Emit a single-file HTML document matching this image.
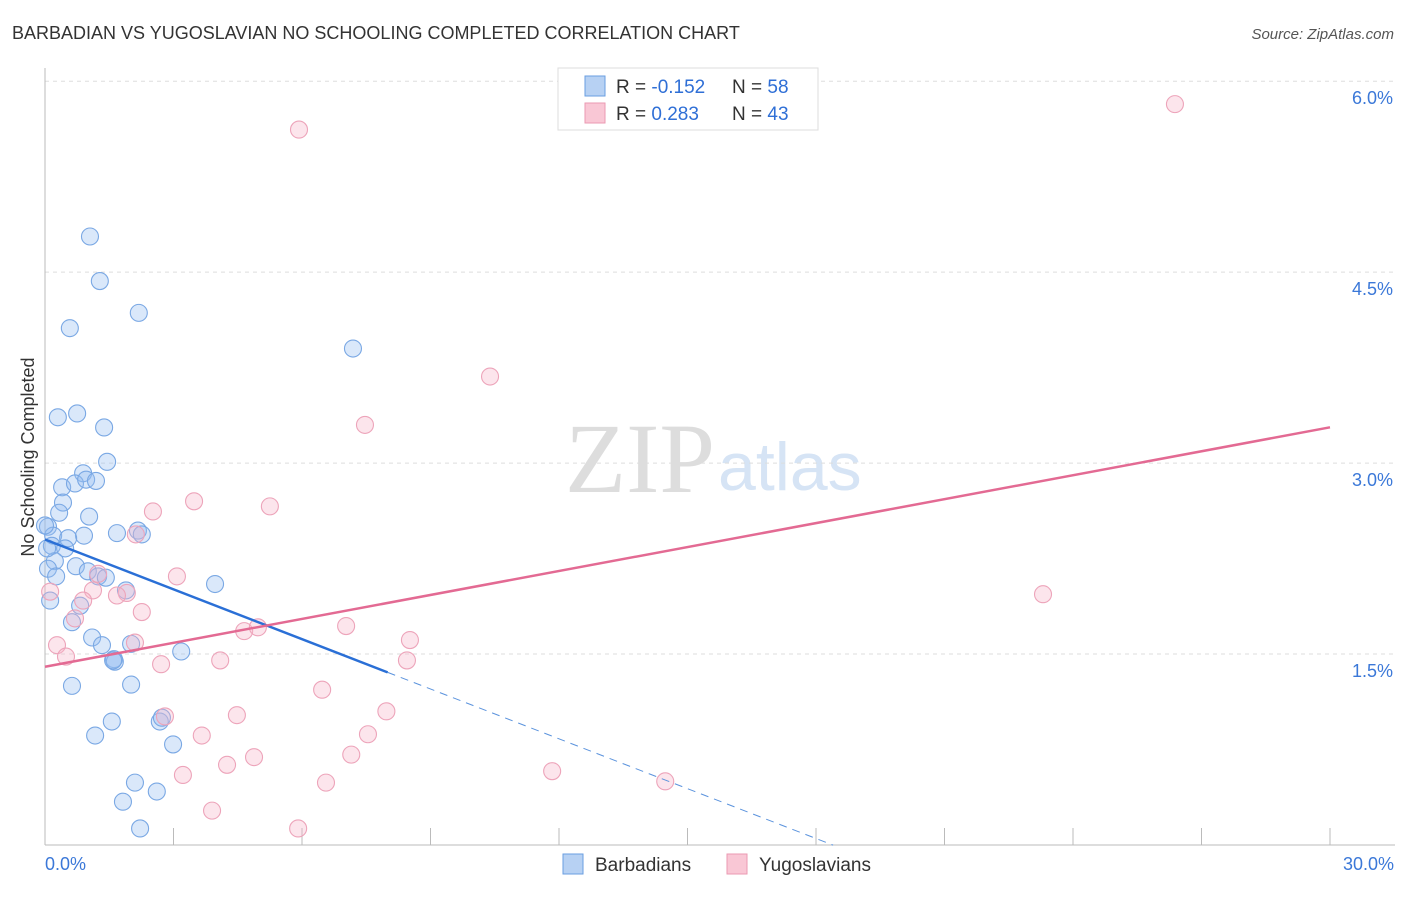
<!DOCTYPE html>
<html><head><meta charset="utf-8"><style>
body{margin:0;background:#fff;font-family:"Liberation Sans",sans-serif}
</style></head><body>
<svg id="c" width="1406" height="892" xmlns="http://www.w3.org/2000/svg" font-family="Liberation Sans, sans-serif">
<text x="12" y="39" font-size="18" fill="#333">BARBADIAN VS YUGOSLAVIAN NO SCHOOLING COMPLETED CORRELATION CHART</text>
<text x="1394" y="39" font-size="15" fill="#555" text-anchor="end" font-style="italic">Source: ZipAtlas.com</text>
<text x="715" y="492" font-size="100" fill="#ddd" text-anchor="end" style="font-family:'Liberation Serif',serif">ZIP</text>
<text x="718" y="490" font-size="68" fill="#d6e4f5">atlas</text>
<g id="grid"></g><g id="axes"></g><g id="pts"></g><g id="lines"></g>
<text transform="translate(34,457) rotate(-90)" font-size="18" fill="#333" text-anchor="middle">No Schooling Completed</text>
<g>
<rect x="558" y="68" width="260" height="62" fill="#fff" stroke="#ddd"/>
<rect x="585" y="76" width="20" height="20" fill="#b7d1f3" stroke="#6a9ee0"/>
<rect x="585" y="103" width="20" height="20" fill="#f9c7d5" stroke="#eb9ab2"/>
<text x="616" y="93" font-size="19" fill="#333">R = <tspan fill="#2f6fd6">-0.152</tspan></text>
<text x="732" y="93" font-size="19" fill="#333">N = <tspan fill="#2f6fd6">58</tspan></text>
<text x="616" y="120" font-size="19" fill="#333">R = <tspan fill="#2f6fd6"> 0.283</tspan></text>
<text x="732" y="120" font-size="19" fill="#333">N = <tspan fill="#2f6fd6">43</tspan></text>
</g>
<g><rect x="563" y="854" width="20" height="20" fill="#b7d1f3" stroke="#6a9ee0"/><text x="595" y="871" font-size="19" fill="#333">Barbadians</text></g>
<g><rect x="727" y="854" width="20" height="20" fill="#f9c7d5" stroke="#eb9ab2"/><text x="759" y="871" font-size="19" fill="#333">Yugoslavians</text></g>
</svg>
<script>
const blueX=[1.05,1.28,2.19,0.58,7.19,0.30,0.75,1.38,1.45,0.89,0.40,0.70,0.96,1.19,0.42,0.33,1.03,0.07,1.68,2.17,2.26,0.91,0.19,0.54,0.16,0.47,0.23,0.72,1.00,0.07,0.26,1.24,1.42,3.97,1.89,0.12,0.82,0.63,1.10,1.33,2.01,3.18,1.61,1.63,0.63,2.01,1.56,2.68,2.73,1.17,2.99,2.10,1.82,2.61,2.22,0.00,0.05,1.59];
const blueY=[4.78,4.43,4.18,4.06,3.90,3.36,3.39,3.28,3.01,2.92,2.81,2.84,2.87,2.86,2.69,2.61,2.58,2.50,2.45,2.47,2.44,2.43,2.43,2.41,2.35,2.33,2.23,2.19,2.15,2.17,2.11,2.11,2.10,2.05,2.00,1.92,1.88,1.75,1.63,1.57,1.58,1.52,1.46,1.44,1.25,1.26,0.97,0.97,1.00,0.86,0.79,0.49,0.34,0.42,0.13,2.51,2.33,1.45];
const pinkX=[26.38,5.93,10.39,7.47,3.48,5.25,2.52,2.12,3.08,1.24,23.30,1.12,1.91,1.68,0.12,0.89,2.26,0.70,4.65,4.97,7.03,8.52,2.10,0.28,0.49,2.71,4.09,8.45,6.47,7.97,4.48,2.80,3.66,7.54,4.88,4.25,7.15,3.22,6.56,11.84,14.48,3.90,5.91];
const pinkY=[5.82,5.62,3.68,3.30,2.70,2.66,2.62,2.44,2.11,2.13,1.97,2.00,1.98,1.96,1.99,1.92,1.83,1.78,1.68,1.71,1.72,1.61,1.59,1.57,1.48,1.42,1.45,1.45,1.22,1.05,1.02,1.01,0.86,0.87,0.69,0.63,0.71,0.55,0.49,0.58,0.50,0.27,0.13];
const yTicks=[1.5,3.0,4.5,6.0];
const yTickLabels=["1.5%","3.0%","4.5%","6.0%"];
const xTicks=[0,3,6,9,12,15,18,21,24,27,30];
const blueFit=[2.40,-0.1305,8.0,18.4];
const pinkFit=[1.40,0.0627,30];
const sx=v=>45+v*1285/30, sy=v=>845-v*127.3;
const NS="http://www.w3.org/2000/svg";
function mk(p,t,a){const e=document.createElementNS(NS,t);for(const k in a)e.setAttribute(k,a[k]);document.getElementById(p).appendChild(e);return e;}
yTicks.forEach((t,i)=>{
 const l=mk('grid','line',{x1:45,x2:1395,y1:sy(t),y2:sy(t),stroke:'#ddd','stroke-dasharray':'4,4'});
 
 
 const tx=mk('grid','text',{x:1393,y:sy(t)+23,'font-size':18,fill:'#3b78d8','text-anchor':'end'});tx.textContent=yTickLabels[i];
 
 
});
mk('axes','line',{x1:45,x2:45,y1:68,y2:845,stroke:'#bbb'});
mk('axes','line',{x1:45,x2:1395,y1:845,y2:845,stroke:'#bbb'});
xTicks.forEach(t=>{const l=mk('axes','line',{x1:sx(t),x2:sx(t),y1:828,y2:845,stroke:'#bbb'});
 
 });
const x0=mk('axes','text',{x:45,y:870,'font-size':18,fill:'#3b78d8'});x0.textContent='0.0%';


const x1=mk('axes','text',{x:1394,y:870,'font-size':18,fill:'#3b78d8','text-anchor':'end'});x1.textContent='30.0%';


blueX.forEach((v,i)=>{const c=mk('pts','circle',{cx:sx(v),cy:sy(blueY[i]),r:8.5,fill:'rgba(150,190,240,0.35)',stroke:'#7aa8e4','stroke-width':1.1});
 
 });
pinkX.forEach((v,i)=>{const c=mk('pts','circle',{cx:sx(v),cy:sy(pinkY[i]),r:8.5,fill:'rgba(246,180,200,0.35)',stroke:'#eda4ba','stroke-width':1.1});
 
 });
const bf=x=>blueFit[0]+blueFit[1]*x, pf=x=>pinkFit[0]+pinkFit[1]*x;
const b1=mk('lines','line',{x1:sx(0),y1:sy(bf(0)),x2:sx(blueFit[2]),y2:sy(bf(blueFit[2])),stroke:'#2a6fd6','stroke-width':2.5});


const b2=mk('lines','line',{x1:sx(blueFit[2]),y1:sy(bf(blueFit[2])),x2:sx(blueFit[3]),y2:sy(bf(blueFit[3])),stroke:'#5b93dd','stroke-width':1,'stroke-dasharray':'8,6'});


const p1=mk('lines','line',{x1:sx(0),y1:sy(pf(0)),x2:sx(pinkFit[2]),y2:sy(pf(pinkFit[2])),stroke:'#e36a93','stroke-width':2.5});


</script>
</body></html>
